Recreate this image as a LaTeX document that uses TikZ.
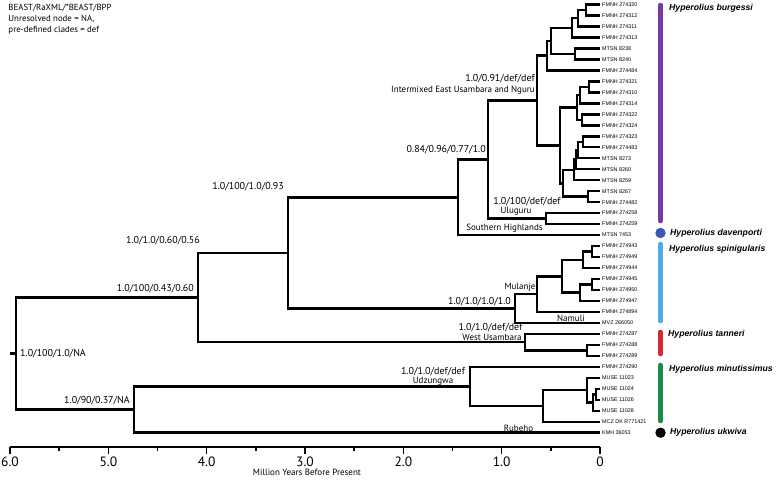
\documentclass[tikz,border=0pt]{standalone}
\usepackage{fontspec}
\setmainfont{PT Sans}
\newfontfamily\arialfont{Liberation Sans}
\usetikzlibrary{calc}
\definecolor{cpurple}{RGB}{118,58,160}
\definecolor{cblue}{RGB}{58,88,180}
\definecolor{clight}{RGB}{80,172,228}
\definecolor{cred}{RGB}{212,40,50}
\definecolor{cgreen}{RGB}{28,140,76}
\tikzset{
  branch/.style={line width=2.5pt, black},
  axisline/.style={line width=1.5pt, black},
  tiplab/.style={anchor=west, inner sep=0pt, font=\arialfont\fontsize{5.4}{6}\selectfont, text=black},
  nlab/.style={inner sep=0pt, font=\fontsize{10}{12}\selectfont},
  clab/.style={inner sep=0pt, font=\fontsize{9}{11}\selectfont},
  hlab/.style={anchor=west, inner sep=0pt, font=\fontsize{8.8}{11}\selectfont},
  splab/.style={anchor=west, inner sep=0pt, font=\arialfont\bfseries\itshape\fontsize{8.7}{10}\selectfont},
  ticklab/.style={inner sep=0pt, font=\fontsize{13.5}{15}\selectfont},
  cladebar/.style={line width=4.5pt, line cap=round},
}
\newcommand\tipnode[3]{%
  \coordinate (#1) at (600,{4.5+10.98*#2});
  \node[tiplab] (#1l) at (602,{4.5+10.98*#2}) {#3};%
}
\newcommand\innode[4]{%
  \path let \p1=($(#3)!0.5!(#4)$) in coordinate (#1) at (#2pt,\y1);
  \draw[branch] (#1) |- (#3);
  \draw[branch] (#1) |- (#4);%
}
\begin{document}
\begin{tikzpicture}[x=1pt,y=-1pt]
\useasboundingbox (0,0) rectangle (778,480);

% header
\node[hlab] (h1) at (8.3,8.3) {BEAST/RaXML/*BEAST/BPP};
\node[hlab] (h2) at (8.3,19.3) {Unresolved node = NA,};
\node[hlab] (h3) at (8.3,30.5) {pre-defined clades = def};

% tips
\foreach \i/\l in {0/FMNH 274320,1/FMNH 274312,2/FMNH 274311,3/FMNH 274313,4/MTSN 8238,5/MTSN 8240,6/FMNH 274484,7/FMNH 274321,8/FMNH 274310,9/FMNH 274314,10/FMNH 274322,11/FMNH 274324,12/FMNH 274323,13/FMNH 274483,14/MTSN 8273,15/MTSN 8260,16/MTSN 8259,17/MTSN 8267,18/FMNH 274482,19/FMNH 274258,20/FMNH 274259,21/MTSN 7453,22/FMNH 274943,23/FMNH 274949,24/FMNH 274944,25/FMNH 274945,26/FMNH 274950,27/FMNH 274947,28/FMNH 274894,29/MVZ 266050,30/FMNH 274287,31/FMNH 274288,32/FMNH 274289,33/FMNH 274290,34/MUSE 11023,35/MUSE 11024,36/MUSE 11026,37/MUSE 11028,38/MCZ DK R771421,39/KMH 36053}{
  \tipnode{t\i}{\i}{\l}
}

% burgessi clade
\innode{n01}{586}{t0}{t1}
\innode{n012}{578}{n01}{t2}
\innode{n0123}{572}{n012}{t3}
\innode{n45}{575}{t4}{t5}
\innode{nX}{551}{n0123}{n45}
\innode{nB}{547}{nX}{t6}
\innode{n78}{589}{t7}{t8}
\innode{n789}{580}{n78}{t9}
\innode{n1011}{582}{t10}{t11}
\innode{nF}{577}{n789}{n1011}
\innode{n1213}{583}{t12}{t13}
\innode{n1214}{578}{n1213}{t14}
\innode{nG1}{576}{n1214}{t15}
\innode{nG2}{574}{nG1}{t16}
\innode{n1718}{588}{t17}{t18}
\innode{nH}{563}{nG2}{n1718}
\innode{nE}{560}{nF}{nH}
\innode{nA}{537}{nB}{nE}
\innode{nUlu}{546}{t19}{t20}
\innode{nN488}{488}{nA}{nUlu}
\innode{nN458}{458}{nN488}{t21}
% spinigularis clade
\innode{n2223}{592}{t22}{t23}
\innode{n2224}{583}{n2223}{t24}
\innode{n2526}{592}{t25}{t26}
\innode{n2527}{580}{n2526}{t27}
\innode{n562}{562}{n2224}{n2527}
\innode{n537}{537}{n562}{t28}
\innode{n515}{515}{n537}{t29}
\innode{nN288}{288}{nN458}{n515}
% tanneri clade
\innode{n3132}{587}{t31}{t32}
\innode{n525}{525}{t30}{n3132}
\innode{nN198}{198}{nN288}{n525}
% minutissimus clade
\innode{n3536}{596}{t35}{t36}
\innode{n3537}{593}{n3536}{t37}
\innode{n587}{587}{t34}{n3537}
\innode{n543}{543}{n587}{t38}
\innode{n470}{470}{t33}{n543}
\innode{n134}{134}{n470}{t39}
\innode{root}{16}{nN198}{n134}
\coordinate (stubend) at (10,0);
\draw[branch] (root) -- (root -| stubend);

% node labels
\node[nlab, anchor=west] (lroot) at (20,354) {1.0/100/1.0/NA};
\node[nlab, anchor=east] (lN198) at (194,289) {1.0/100/0.43/0.60};
\node[nlab, anchor=east] (ln134) at (130,401) {1.0/90/0.37/NA};
\node[nlab, anchor=east] (lN288) at (200,241) {1.0/1.0/0.60/0.56};
\node[nlab, anchor=east] (lN458) at (284,187) {1.0/100/1.0/0.93};
\node[nlab, anchor=east] (lN488) at (486,150) {0.84/0.96/0.77/1.0};
\node[nlab, anchor=east] (lA) at (535,79) {1.0/0.91/def/def};
\node[clab, anchor=east] (cA) at (535,90) {Intermixed East Usambara and Nguru};
\node[nlab] (lUlu) at (527,202) {1.0/100/def/def};
\node[clab] (cUlu) at (516,211) {Uluguru};
\node[clab] (cSH) at (504.5,228) {Southern Highlands};
\node[nlab] (l515) at (479.5,302) {1.0/1.0/1.0/1.0};
\node[clab] (cMul) at (520,287) {Mulanje};
\node[clab] (cNam) at (571,318) {Namuli};
\node[nlab] (l525) at (490.5,328) {1.0/1.0/def/def};
\node[clab] (cWU) at (492,337) {West Usambara};
\node[nlab] (l470) at (433,372) {1.0/1.0/def/def};
\node[clab] (cUdz) at (433,381) {Udzungwa};
\node[clab] (cRub) at (518.5,428) {Rubeho};

% clade bars and species
\draw[cladebar, cpurple] (660.5,5) -- (660.5,221);
\fill[cblue] (660.5,233) circle[radius=5.2];
\draw[cladebar, clight] (660.5,244) -- (660.5,321);
\draw[cladebar, cred] (660.5,332) -- (660.5,354);
\draw[cladebar, cgreen] (660.5,365) -- (660.5,421);
\fill[black] (660.5,432.7) circle[radius=5.2];
\node[splab] (sp1) at (669,8.5) {Hyperolius burgessi};
\node[splab] (sp2) at (670,233) {Hyperolius davenporti};
\node[splab] (sp3) at (669,249) {Hyperolius spinigularis};
\node[splab] (sp4) at (668,334) {Hyperolius tanneri};
\node[splab] (sp5) at (669,369) {Hyperolius minutissimus};
\node[splab] (sp6) at (670,432.7) {Hyperolius ukwiva};

% axis
\coordinate (ax6) at (10,447);
\coordinate (ax0) at (600,447);
\draw[axisline] (ax6) -- (ax0);
\foreach \v/\t in {0/0,1/1.0,2/2.0,3/3.0,4/4.0,5/5.0,6/6.0}{
  \draw[axisline] (600-98.333*\v,447) -- ++(0,7);
  \node[ticklab] (tk\v) at (600-98.333*\v,462) {\t};
}
\foreach \v in {0.5,1.5,2.5,3.5,4.5,5.5}{
  \draw[axisline] (600-98.333*\v,447) -- ++(0,4);
}
\node[clab] (axlab) at (307,472.5) {Million Years Before Present};
\end{tikzpicture}
\end{document}
